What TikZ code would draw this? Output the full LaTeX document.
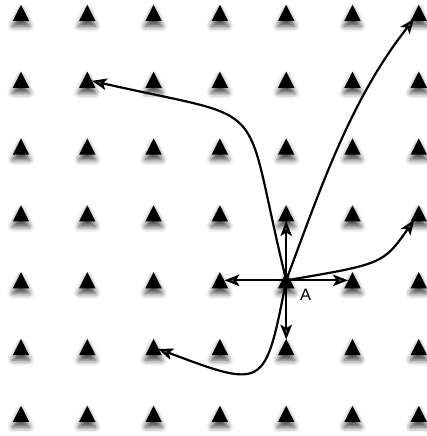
\documentclass[tikz,border=0pt]{standalone}
\usepackage{fontspec}
\setmainfont{Liberation Sans}
\usetikzlibrary{shadows.blur,arrows.meta}
\begin{document}
\begin{tikzpicture}[x=1pt,y=-1pt,
  trifill/.style={fill=black,
    blur shadow={shadow xshift=0pt, shadow yshift=-5pt, shadow blur radius=5.5pt, shadow opacity=75}},
  tribox/.style={rectangle, draw=none, minimum width=9pt, minimum height=15pt, inner sep=0pt, outer sep=0pt},
  arr/.style={line width=2.2pt, -{Stealth[length=15pt,width=11.5pt,inset=3.5pt]}},
  lbl/.style={font=\fontsize{16.5}{19}\selectfont, inner sep=0pt}
]
\useasboundingbox (0,0) rectangle (427,436);
\foreach \c in {0,...,6} {
  \foreach \r in {0,...,6} {
    \pgfmathsetmacro{\px}{21+66.3*\c}
    \pgfmathsetmacro{\py}{13+66.83*\r}
    \fill[trifill] (\px-8.2,\py+8) -- (\px,\py-8.2) -- (\px+8.2,\py+8) -- cycle;
    \node[tribox] (t-\c-\r) at (\px,\py) {};
  }
}
\draw[arr] (t-4-4.center) -- (t-4-3);
\draw[arr] (t-4-4.center) -- (t-4-5);
\draw[arr] (t-4-4.center) -- (t-3-4);
\draw[arr] (t-4-4.center) -- (t-5-4);
\draw[arr] (t-4-4.center) .. controls (320,190) and (350,100) .. (t-6-0);
\draw[arr] (t-4-4.center) .. controls (240,92) and (277,123) .. (t-1-1);
\draw[arr] (t-4-4.center) .. controls (383,264) and (383,264) .. (t-6-3);
\draw[arr] (t-4-4.center) .. controls (265,389) and (265,389) .. (t-2-5);
\node[lbl] (lblA) at (305.5,295) {A};
\end{tikzpicture}
\end{document}
